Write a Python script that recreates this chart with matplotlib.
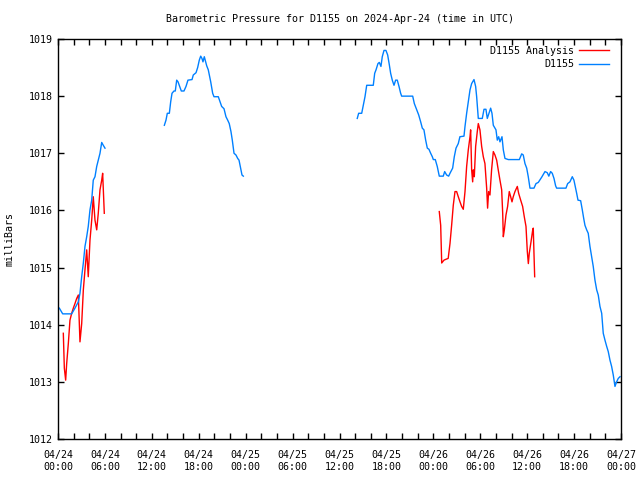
import numpy as np
import matplotlib
matplotlib.use("Agg")
import matplotlib.pyplot as plt

# hours since 2024-04-24 00:00 UTC
obs_hours_1 = [0.17, 0.6, 1.75, 2.17, 2.6, 2.81, 3.03, 3.24, 3.45, 3.67, 3.87, 4.09, 4.31, 4.51,
               4.73, 4.95, 5.15, 5.37, 5.59, 5.79, 6.01]
obs_mb_1 = [1014.29, 1014.19, 1014.19, 1014.29, 1014.40, 1014.55, 1014.84, 1015.08, 1015.37,
            1015.54, 1015.72, 1016.01, 1016.18, 1016.53, 1016.59, 1016.77, 1016.88, 1017.0,
            1017.19, 1017.14, 1017.09]

obs_hours_2 = [13.6, 13.81, 13.98, 14.24, 14.41, 14.58, 14.83, 15.0, 15.18, 15.35, 15.51, 15.77,
               16.11, 16.37, 16.62, 17.14, 17.3, 17.65, 17.86, 18.07, 18.25, 18.41, 18.54, 18.71,
               18.89, 19.02, 19.22, 19.35, 19.53, 19.66, 19.78, 19.95, 20.5, 20.72, 20.93, 21.23,
               21.48, 21.70, 21.90, 22.12, 22.29, 22.51, 22.76, 22.98, 23.15, 23.31, 23.53, 23.7]
obs_mb_2 = [1017.49, 1017.58, 1017.70, 1017.70, 1017.90, 1018.05, 1018.09, 1018.09, 1018.28,
            1018.25, 1018.19, 1018.09, 1018.09, 1018.17, 1018.28, 1018.29, 1018.37, 1018.41,
            1018.50, 1018.63, 1018.70, 1018.66, 1018.60, 1018.69, 1018.60, 1018.53, 1018.46,
            1018.37, 1018.25, 1018.14, 1018.05, 1017.99, 1017.99, 1017.90, 1017.82, 1017.78,
            1017.64, 1017.58, 1017.52, 1017.38, 1017.23, 1017.0, 1016.97, 1016.91, 1016.88,
            1016.77, 1016.62, 1016.60]

obs_hours_3 = [38.27, 38.45, 38.84, 39.04, 39.26, 39.48, 40.32, 40.5, 40.67, 40.92, 41.09, 41.3,
               41.47, 41.69, 41.94, 42.16, 42.37, 42.54, 42.75, 42.97, 43.18, 43.39, 43.61, 43.82,
               43.95, 45.36, 45.57, 45.87, 46.13, 46.38, 46.59, 46.8, 47.02, 47.23, 47.44, 47.66,
               47.87, 48.0, 48.25, 48.5, 48.76, 49.27, 49.45, 49.7, 49.96, 50.13, 50.47, 50.68,
               50.9, 51.19, 51.4, 51.92, 52.05, 52.26, 52.47, 52.69, 52.9, 53.2, 53.41, 53.54,
               53.75, 54.26, 54.48, 54.73, 54.9, 55.12, 55.33, 55.5, 55.67, 56.01, 56.18, 56.36,
               56.52, 56.78, 56.95, 57.16, 57.59, 59.0, 59.3, 59.5, 59.72, 59.94, 60.14, 60.36,
               60.87, 61.13, 61.42, 61.85, 62.28, 62.57, 62.77, 63.0, 63.21, 63.43, 63.64, 63.77,
               64.96, 65.18, 65.47, 65.77, 65.98, 66.15, 66.33, 66.5, 66.84, 67.05, 67.23, 67.39,
               67.61, 67.81, 68.03, 68.25, 68.45, 68.67, 68.89, 69.09, 69.31, 69.53, 69.73, 69.95,
               70.17, 70.37, 70.59, 70.8, 71.01, 71.23, 71.44, 71.65, 71.87]
obs_mb_3 = [1017.61, 1017.70, 1017.70, 1017.84, 1017.99, 1018.19, 1018.19, 1018.40, 1018.46,
            1018.57, 1018.59, 1018.52, 1018.69, 1018.80, 1018.80, 1018.72, 1018.55, 1018.40,
            1018.28, 1018.19, 1018.28, 1018.28, 1018.17, 1018.05, 1018.00, 1018.00, 1017.87,
            1017.76, 1017.67, 1017.55, 1017.44, 1017.41, 1017.23, 1017.09, 1017.07, 1017.0,
            1016.94, 1016.89, 1016.89, 1016.77, 1016.60, 1016.60, 1016.68, 1016.62, 1016.60,
            1016.65, 1016.74, 1016.94, 1017.09, 1017.17, 1017.29, 1017.30, 1017.47, 1017.70,
            1017.90, 1018.11, 1018.22, 1018.29, 1018.17, 1017.99, 1017.61, 1017.61, 1017.77,
            1017.77, 1017.61, 1017.70, 1017.79, 1017.70, 1017.49, 1017.41, 1017.23, 1017.29,
            1017.20, 1017.29, 1017.06, 1016.91, 1016.89, 1016.89, 1016.99, 1016.97, 1016.82,
            1016.74, 1016.59, 1016.39, 1016.39, 1016.47, 1016.49, 1016.58, 1016.68, 1016.66,
            1016.60, 1016.68, 1016.65, 1016.56, 1016.43, 1016.39, 1016.39, 1016.47, 1016.50,
            1016.59, 1016.53, 1016.42, 1016.30, 1016.18, 1016.17, 1016.01, 1015.86, 1015.74,
            1015.66, 1015.60, 1015.37, 1015.19, 1015.02, 1014.78, 1014.61, 1014.52, 1014.32,
            1014.20, 1013.85, 1013.73, 1013.62, 1013.53, 1013.38, 1013.27, 1013.12, 1012.92,
            1013.0, 1013.06, 1013.09]

ana_hours_1 = [0.68, 0.81, 0.98, 1.11, 1.32, 1.53, 1.75, 1.96, 2.17, 2.39, 2.6, 2.81, 3.03, 3.24,
               3.45, 3.67, 3.87, 4.09, 4.31, 4.51, 4.73, 4.95, 5.15, 5.37, 5.59, 5.71, 5.92]
ana_mb_1 = [1013.85, 1013.24, 1013.03, 1013.32, 1013.67, 1014.08, 1014.2, 1014.29, 1014.37,
            1014.46, 1014.52, 1013.70, 1014.02, 1014.61, 1014.96, 1015.31, 1014.84, 1015.48,
            1015.83, 1016.24, 1015.83, 1015.66, 1015.95, 1016.36, 1016.53, 1016.65, 1015.95]

ana_hours_2 = [48.76, 48.94, 49.07, 49.36, 49.7, 49.9, 50.13, 50.34, 50.55, 50.77, 50.98, 51.19,
               51.41, 51.62, 51.83, 52.05, 52.26, 52.47, 52.69, 52.77, 52.9, 53.03, 53.11, 53.24,
               53.41, 53.62, 53.75, 53.96, 54.18, 54.39, 54.6, 54.82, 54.94, 55.07, 55.24, 55.45,
               55.67, 55.88, 56.1, 56.3, 56.52, 56.74, 56.87, 56.95, 57.08, 57.29, 57.5, 57.71,
               57.89, 58.06, 58.22, 58.44, 58.74, 58.91, 59.17, 59.42, 59.63, 59.85, 60.02, 60.15,
               60.27, 60.49, 60.71, 60.78, 60.87, 60.96]
ana_mb_2 = [1015.98, 1015.74, 1015.08, 1015.13, 1015.15, 1015.16, 1015.42, 1015.74, 1016.09,
            1016.33, 1016.33, 1016.24, 1016.15, 1016.07, 1016.02, 1016.33, 1016.77, 1017.06,
            1017.29, 1017.41, 1016.71, 1016.50, 1016.71, 1016.59, 1017.12, 1017.38, 1017.52,
            1017.41, 1017.12, 1016.94, 1016.82, 1016.39, 1016.04, 1016.33, 1016.27, 1016.71,
            1017.03, 1016.97, 1016.88, 1016.71, 1016.53, 1016.36, 1015.95, 1015.54, 1015.66,
            1015.92, 1016.07, 1016.33, 1016.24, 1016.15, 1016.24, 1016.33, 1016.42, 1016.30,
            1016.18, 1016.07, 1015.89, 1015.72, 1015.28, 1015.07, 1015.25, 1015.45, 1015.66,
            1015.69, 1015.25, 1014.84]

tick_hours = [0, 6, 12, 18, 24, 30, 36, 42, 48, 54, 60, 66, 72]
tick_labels = ["04/24\n00:00", "04/24\n06:00", "04/24\n12:00", "04/24\n18:00",
               "04/25\n00:00", "04/25\n06:00", "04/25\n12:00", "04/25\n18:00",
               "04/26\n00:00", "04/26\n06:00", "04/26\n12:00", "04/26\n18:00",
               "04/27\n00:00"]
y_ticks = [1012, 1013, 1014, 1015, 1016, 1017, 1018, 1019]

plt.rcParams['font.family'] = ['DejaVu Sans Mono']
FS = 7.2

fig = plt.figure(figsize=(6.4, 4.8), dpi=100)
ax = fig.add_axes([58/640, 41/480, 563/640, 400/480])

def join(*segs):
    xs, ys = [], []
    for i, (sx, sy) in enumerate(segs):
        if i:
            xs.append(np.nan); ys.append(np.nan)
        xs += list(sx); ys += list(sy)
    return np.array(xs), np.array(ys)

ax_x, ax_y = join((ana_hours_1, ana_mb_1), (ana_hours_2, ana_mb_2))
ob_x, ob_y = join((obs_hours_1, obs_mb_1), (obs_hours_2, obs_mb_2), (obs_hours_3, obs_mb_3))

ax.plot(ax_x, ax_y, color='#ff0000', lw=1.0, label='D1155 Analysis')
ax.plot(ob_x, ob_y, color='#0080ff', lw=1.0, label='D1155')

ax.set_xlim(0, 72)
ax.set_ylim(1012, 1019)
ax.set_xticks(tick_hours)
ax.set_xticklabels(tick_labels, fontsize=FS)
ax.set_xticks(np.arange(0, 73, 2), minor=True)
ax.set_yticks(y_ticks)
ax.set_yticklabels([str(v) for v in y_ticks], fontsize=FS)
ax.tick_params(direction='in', top=True, right=True, length=4, width=1, pad=4)
ax.tick_params(axis='x', which='major', pad=8)
ax.tick_params(which='minor', direction='in', top=True, bottom=True, length=4, width=1)
for s in ax.spines.values():
    s.set_linewidth(1)

ax.set_title('Barometric Pressure for D1155 on 2024-Apr-24 (time in UTC)', fontsize=FS, pad=12)
ax.set_ylabel('milliBars', fontsize=FS, labelpad=10)

leg = ax.legend(loc='upper right', bbox_to_anchor=(1 - 5/563, 1), frameon=False, fontsize=FS,
                markerfirst=False, handlelength=3, borderaxespad=0.4, labelspacing=0.35,
                handletextpad=0.5, borderpad=0.3)

fig.savefig('out.png', dpi=100)
